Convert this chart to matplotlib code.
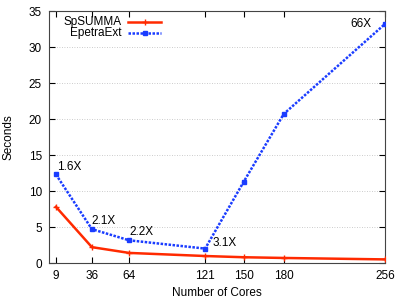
import matplotlib
matplotlib.use("Agg")
import matplotlib.pyplot as plt
from matplotlib.lines import Line2D

cores = [9, 36, 64, 121, 150, 180, 256]
spsumma = [7.8, 2.2, 1.4, 0.97, 0.8, 0.7, 0.5]
epetra = [12.3, 4.7, 3.15, 2.0, 11.3, 20.7, 33.2]
speedups = ["1.6X", "2.1X", "2.2X", "3.1X", "", "", "66X"]
yticks = [0, 5, 10, 15, 20, 25, 30, 35]
series_names = ["SpSUMMA", "EpetraExt"]

plt.rcParams['font.family'] = ['Liberation Sans', 'DejaVu Sans']
W, H = 399, 300
fig = plt.figure(figsize=(W/100, H/100), dpi=100)
L, R, T, B = 49, 385, 11, 263
ax = fig.add_axes([L/W, 1-B/H, (R-L)/W, (B-T)/H])

red = '#ff2a00'
blue = '#1a3cff'
dots = (0, (1, 0.6))
ax.plot(cores, spsumma, color=red, lw=1.8, marker='+', ms=4, mew=1, zorder=3)
ax.plot(cores, epetra, color=blue, lw=1.8, ls=dots, marker='s', ms=3.2, zorder=3)

offsets = {0: (1, 1, 'left', 'bottom'), 1: (0, 2, 'left', 'bottom'), 2: (0, 2, 'left', 'bottom'),
           3: (7, 0, 'left', 'bottom'), 6: (-13, 0, 'right', 'center')}
for i, (x, y, s) in enumerate(zip(cores, epetra, speedups)):
    if not s:
        continue
    dx, dy, ha, va = offsets[i]
    ax.annotate(s, (x, y), xytext=(dx*0.72, dy*0.72), textcoords='offset points',
                ha=ha, va=va, fontsize=8.5)

ax.set_xlim(3.8, 256)
ax.set_ylim(0, 35)
ax.set_xticks(cores)
ax.set_yticks(yticks)
ax.tick_params(direction='in', top=True, right=True, labelsize=8.5, length=4, width=0.8, pad=5)
ax.yaxis.grid(True, ls=(0, (1, 2)), color='#bbbbbb', lw=0.6)
for s in ax.spines.values():
    s.set_color('#444444')
ax.set_xlabel('Number of Cores', fontsize=8.5, labelpad=4)
ax.set_ylabel('Seconds', fontsize=8.5, labelpad=10)

def px2ax(px, py):
    return ((px - L) / (R - L), (B - py) / (B - T))

leg_rows = [(series_names[0], 21.5, dict(color=red, lw=1.8), dict(color=red, marker='+', ms=4, mew=1)),
            (series_names[1], 33, dict(color=blue, lw=1.8, ls=dots), dict(color=blue, marker='s', ms=3.2))]
for name, py, lstyle, mstyle in leg_rows:
    tx, ty = px2ax(122, py)
    ax.text(tx, ty, name, transform=ax.transAxes, ha='right', va='center', fontsize=8.5)
    x0, y0 = px2ax(128, py)
    x1, _ = px2ax(161, py)
    ax.add_line(Line2D([x0, x1], [y0, y0], transform=ax.transAxes, **lstyle))
    ax.add_line(Line2D([(x0 + x1) / 2], [y0], transform=ax.transAxes, lw=0, **mstyle))

fig.savefig('out.png', dpi=100)
